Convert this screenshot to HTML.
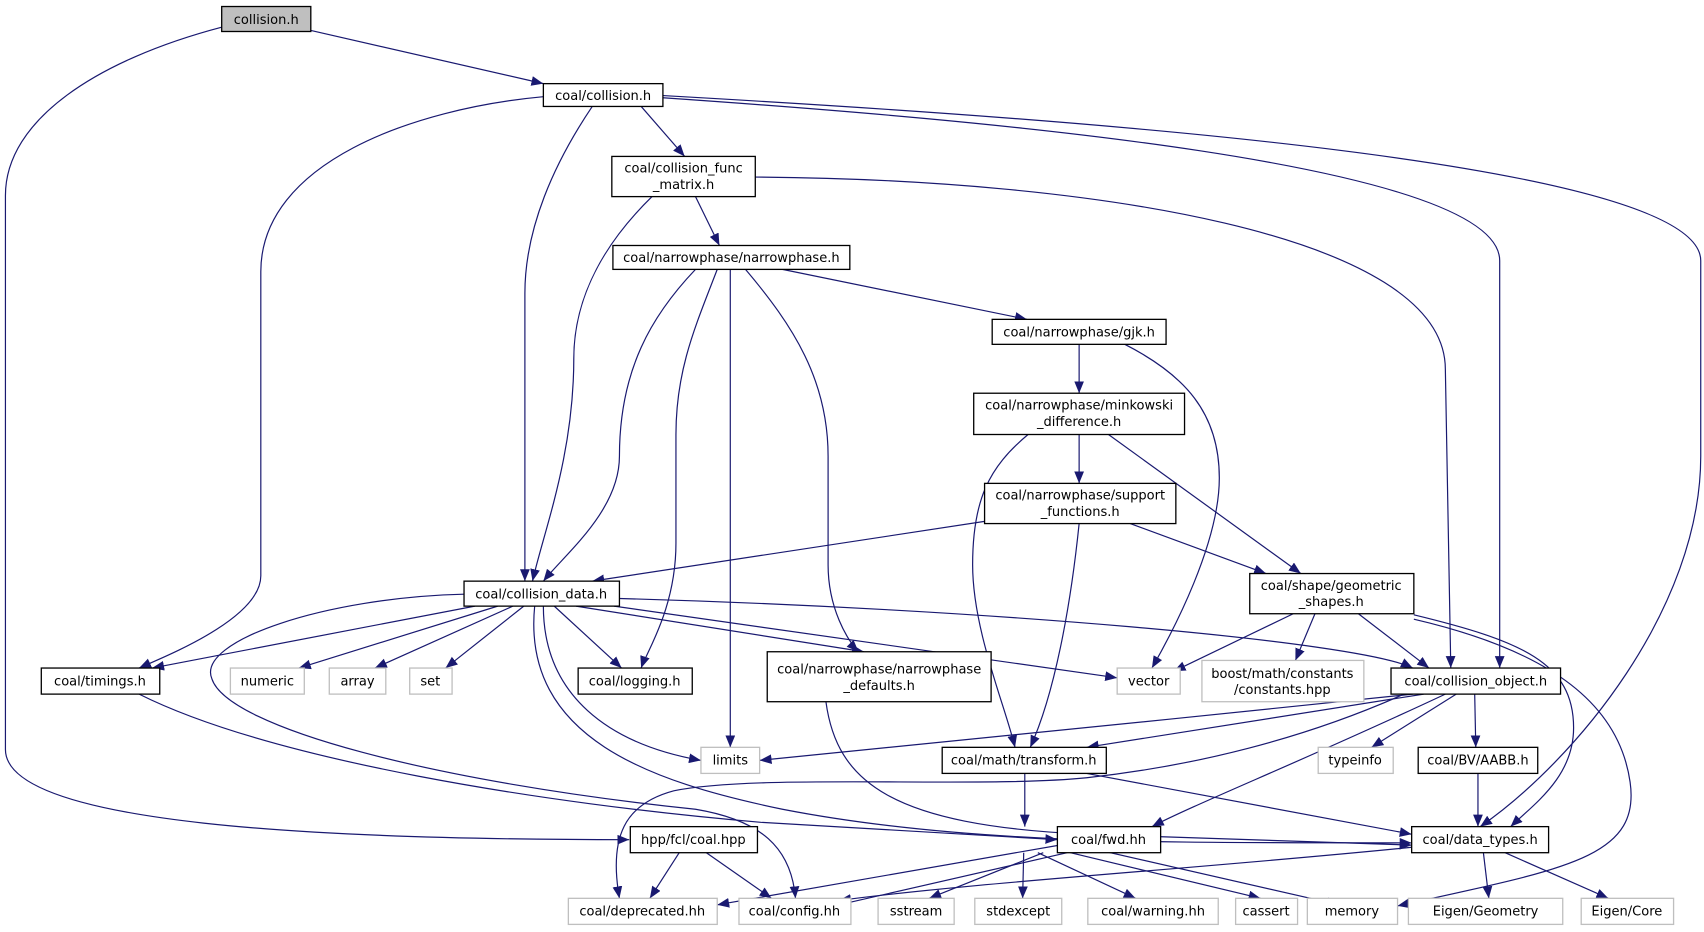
<!DOCTYPE html>
<html><head><meta charset="utf-8"><style>
html,body{margin:0;padding:0;background:#fff;}
svg{display:block;}
text{font-family:"DejaVu Sans","Liberation Sans",sans-serif;font-size:12px;fill:#000;}
.e{fill:none;stroke:#191970;stroke-width:1.1;}
.b{fill:#fff;stroke:#000;stroke-width:1.2;}
.g{fill:#fff;stroke:#bfbfbf;stroke-width:1.2;}
</style></head><body>
<svg width="1704" height="932" viewBox="0 0 1568 858" preserveAspectRatio="none" xmlns="http://www.w3.org/2000/svg">
<defs><marker id="a" markerUnits="userSpaceOnUse" markerWidth="12" markerHeight="10" refX="11" refY="4.5" orient="auto"><path d="M0,0 L11,4.5 L0,9 Z" fill="#191970"/></marker></defs>
<g marker-end="url(#a)">
<path class="e" d="M286,28 L500,77"/>
<path class="e" d="M204,25 C90,55 5,110 5,180 L5,690 C5,760 300,773 579,773"/>
<path class="e" d="M590,98 L630,144"/>
<path class="e" d="M545,98 C510,150 483,210 483,270 L483,535"/>
<path class="e" d="M500,89 C380,100 240,150 240,250 L240,530 C240,570 150,605 128,615"/>
<path class="e" d="M610,90 C900,110 1380,150 1380,240 L1380,615"/>
<path class="e" d="M610,88 C1000,110 1565,150 1565,240 L1565,420 C1565,560 1450,700 1362,761"/>
<path class="e" d="M640,181 L662,226"/>
<path class="e" d="M600,181 C560,220 528,270 528,330 C528,420 500,490 490,535"/>
<path class="e" d="M695,163 C1000,165 1330,215 1330,340 L1335,615"/>
<path class="e" d="M720,248 L945,294"/>
<path class="e" d="M640,248 C600,290 570,340 570,420 C570,470 520,510 500,535"/>
<path class="e" d="M660,248 C640,300 622,340 622,400 L622,500 C622,560 595,600 590,615"/>
<path class="e" d="M672,248 L672,688"/>
<path class="e" d="M686,248 C730,300 762,350 762,420 L762,520 C762,560 780,590 790,600"/>
<path class="e" d="M993,317 L993,362"/>
<path class="e" d="M1035,317 C1090,345 1122,380 1122,440 C1122,500 1080,580 1060,615"/>
<path class="e" d="M993,400 L993,445"/>
<path class="e" d="M946,400 C910,430 895,460 895,520 C895,580 925,650 934,688"/>
<path class="e" d="M1020,400 L1197,528"/>
<path class="e" d="M906,480 L545,535"/>
<path class="e" d="M993,482 C985,560 970,640 948,688"/>
<path class="e" d="M1040,482 L1165,528"/>
<path class="e" d="M437,558 L140,615"/>
<path class="e" d="M458,558 L275,615"/>
<path class="e" d="M472,558 L345,615"/>
<path class="e" d="M482,558 L410,615"/>
<path class="e" d="M510,558 L572,615"/>
<path class="e" d="M500,558 C500,640 560,685 645,700"/>
<path class="e" d="M492,558 C480,680 600,720 720,745 C900,780 1100,775 1299,776"/>
<path class="e" d="M427,547 C300,550 180,590 195,625 C210,670 400,720 640,745 C700,755 728,780 732,827"/>
<path class="e" d="M530,558 L795,600"/>
<path class="e" d="M565,558 L1028,624"/>
<path class="e" d="M570,551 C900,560 1250,590 1300,615"/>
<path class="e" d="M128,639 C250,700 500,740 700,757 L973,773"/>
<path class="e" d="M760,646 C770,720 820,760 1000,768 L1299,778"/>
<path class="e" d="M1300,639 C1100,660 800,690 699,700"/>
<path class="e" d="M1310,639 L1000,688"/>
<path class="e" d="M1292,639 C1200,680 1100,705 1000,716 C900,726 700,712 620,728 C575,740 560,770 570,827"/>
<path class="e" d="M1330,639 C1200,700 1100,740 1060,761"/>
<path class="e" d="M1340,639 L1262,688"/>
<path class="e" d="M1357,639 L1358,688"/>
<path class="e" d="M1190,565 L1080,618"/>
<path class="e" d="M1210,565 L1192,608"/>
<path class="e" d="M1250,565 L1315,615"/>
<path class="e" d="M1301,566 C1400,590 1448,610 1448,670 C1448,715 1412,740 1390,761"/>
<path class="e" d="M1301,570 C1430,600 1490,650 1500,720 C1510,790 1440,800 1286,834"/>
<path class="e" d="M943,712 L943,761"/>
<path class="e" d="M1000,712 L1299,768"/>
<path class="e" d="M1360,712 L1360,761"/>
<path class="e" d="M1299,780 C1100,800 900,812 772,829"/>
<path class="e" d="M1365,785 L1370,827"/>
<path class="e" d="M1385,785 L1480,827"/>
<path class="e" d="M975,778 L660,833"/>
<path class="e" d="M982,785 L772,833"/>
<path class="e" d="M960,785 L855,827"/>
<path class="e" d="M942,785 L941,827"/>
<path class="e" d="M955,785 L1045,827"/>
<path class="e" d="M985,785 L1160,827"/>
<path class="e" d="M1000,780 L1232,833"/>
<path class="e" d="M625,785 L598,827"/>
<path class="e" d="M650,785 L710,827"/>
</g>
<g text-anchor="middle">
<rect x="204" y="6" width="82" height="23" fill="#bfbfbf" stroke="#000" stroke-width="1.2"/><text x="245" y="22">collision.h</text>
<rect class="b" x="500" y="77" width="110" height="21"/><text x="555" y="92">coal/collision.h</text>
<rect class="b" x="563" y="144" width="132" height="37"/><text x="629" y="159">coal/collision_func</text><text x="629" y="174">_matrix.h</text>
<rect class="b" x="564" y="226" width="218" height="22"/><text x="673" y="241">coal/narrowphase/narrowphase.h</text>
<rect class="b" x="913" y="294" width="160" height="23"/><text x="993" y="310">coal/narrowphase/gjk.h</text>
<rect class="b" x="896" y="362" width="194" height="38"/><text x="993" y="377">coal/narrowphase/minkowski</text><text x="993" y="392">_difference.h</text>
<rect class="b" x="906" y="445" width="176" height="37"/><text x="994" y="460">coal/narrowphase/support</text><text x="994" y="475">_functions.h</text>
<rect class="b" x="427" y="535" width="143" height="23"/><text x="498" y="551">coal/collision_data.h</text>
<rect class="b" x="1150" y="528" width="151" height="37"/><text x="1225" y="543">coal/shape/geometric</text><text x="1225" y="558">_shapes.h</text>
<rect class="b" x="38" y="615" width="109" height="24"/><text x="92" y="631">coal/timings.h</text>
<rect class="g" x="212" y="615" width="68" height="24"/><text x="246" y="631">numeric</text>
<rect class="g" x="303" y="615" width="52" height="24"/><text x="329" y="631">array</text>
<rect class="g" x="377" y="615" width="39" height="24"/><text x="396" y="631">set</text>
<rect class="b" x="532" y="615" width="105" height="24"/><text x="584" y="631">coal/logging.h</text>
<rect class="b" x="706" y="600" width="206" height="46"/><text x="809" y="620">coal/narrowphase/narrowphase</text><text x="809" y="635">_defaults.h</text>
<rect class="g" x="1028" y="615" width="58" height="24"/><text x="1057" y="631">vector</text>
<rect class="g" x="1106" y="608" width="149" height="38"/><text x="1180" y="624">boost/math/constants</text><text x="1180" y="639">/constants.hpp</text>
<rect class="b" x="1280" y="615" width="156" height="24"/><text x="1358" y="631">coal/collision_object.h</text>
<rect class="g" x="645" y="688" width="54" height="24"/><text x="672" y="704">limits</text>
<rect class="b" x="867" y="688" width="151" height="24"/><text x="942" y="704">coal/math/transform.h</text>
<rect class="g" x="1213" y="688" width="69" height="24"/><text x="1247" y="704">typeinfo</text>
<rect class="b" x="1305" y="688" width="110" height="24"/><text x="1360" y="704">coal/BV/AABB.h</text>
<rect class="b" x="580" y="761" width="117" height="24"/><text x="638" y="777">hpp/fcl/coal.hpp</text>
<rect class="b" x="973" y="761" width="95" height="24"/><text x="1020" y="777">coal/fwd.hh</text>
<rect class="b" x="1299" y="761" width="126" height="24"/><text x="1362" y="777">coal/data_types.h</text>
<rect class="g" x="523" y="827" width="137" height="24"/><text x="591" y="843">coal/deprecated.hh</text>
<rect class="g" x="680" y="827" width="103" height="24"/><text x="731" y="843">coal/config.hh</text>
<rect class="g" x="808" y="827" width="70" height="24"/><text x="843" y="843">sstream</text>
<rect class="g" x="897" y="827" width="80" height="24"/><text x="937" y="843">stdexcept</text>
<rect class="g" x="1001" y="827" width="120" height="24"/><text x="1061" y="843">coal/warning.hh</text>
<rect class="g" x="1137" y="827" width="57" height="24"/><text x="1165" y="843">cassert</text>
<rect class="g" x="1203" y="827" width="83" height="24"/><text x="1244" y="843">memory</text>
<rect class="g" x="1296" y="827" width="142" height="24"/><text x="1367" y="843">Eigen/Geometry</text>
<rect class="g" x="1455" y="827" width="85" height="24"/><text x="1497" y="843">Eigen/Core</text>
</g>
</svg>
</body></html>
